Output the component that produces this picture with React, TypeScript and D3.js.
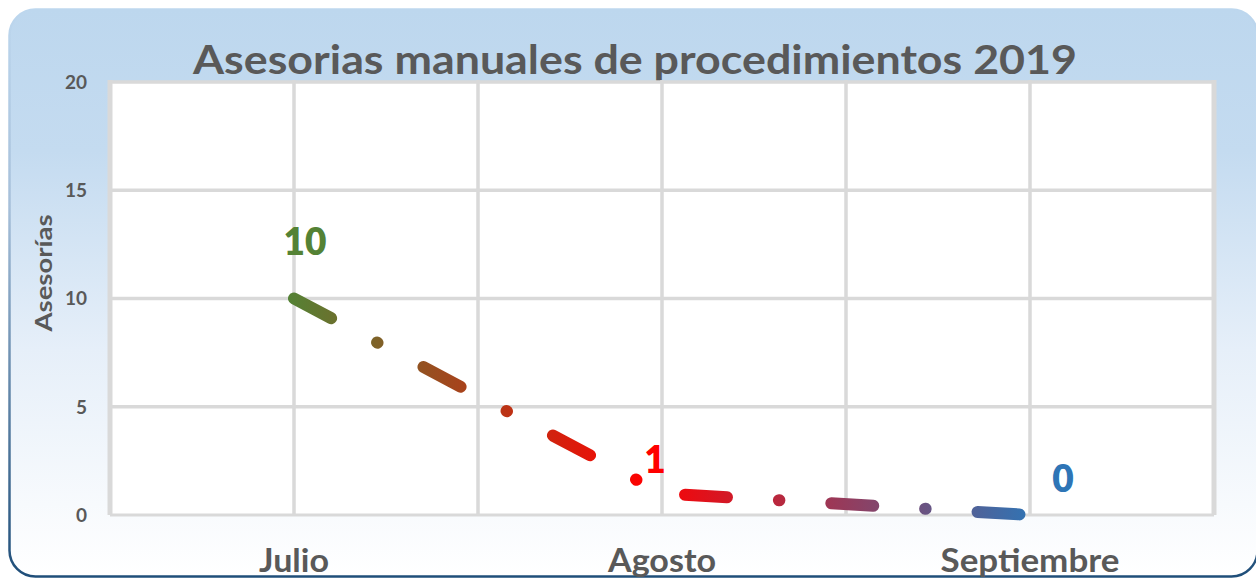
import React from 'react';
import * as d3 from 'd3';

const months = ['Julio', 'Agosto', 'Septiembre'];
const asesorias = [10, 1, 0];
const yTicks = [0, 5, 10, 15, 20];
const labelColors = ['#548235', '#ff0000', '#2e75b6'];

const W = 1256;
const H = 578;
const FONT = 'Lato, "Open Sans", sans-serif';

const App = () => {
  const x = d3.scaleBand<string>().domain(months).range([110, 1214]).padding(0);
  const y = d3.scaleLinear().domain([0, 20]).range([515, 82]);
  const bw = x.bandwidth();
  const cx = (m: string) => (x(m) as number) + bw / 2;

  // vertical gridlines at band edges and band centres
  const vLines: number[] = [];
  months.forEach((m) => {
    vLines.push(x(m) as number);
    vLines.push(cx(m));
  });
  vLines.push(x.range()[1]);

  const line = d3.line<number>()
    .x((_, i) => cx(months[i]))
    .y((d) => y(d));

  const labelPos = [
    { dx: 11, dy: -44 },
    { dx: -7, dy: -20 },
    { dx: 33, dy: -23 },
  ];
  const xLabelWidths = [70, 108, 179];

  return (
    <svg width={W} height={H} style={{ position: 'absolute', left: 0, top: 0 }}>
      <defs>
        <linearGradient id="bg-fill" x1="0" y1="0" x2="0" y2="1">
          <stop offset="0%" stopColor="#bdd7ee" />
          <stop offset="25%" stopColor="#c4dbf0" />
          <stop offset="60%" stopColor="#e6eff9" />
          <stop offset="100%" stopColor="#ffffff" />
        </linearGradient>
        <linearGradient id="bg-stroke" x1="0" y1="0" x2="0" y2="1">
          <stop offset="0%" stopColor="#bdd7ee" />
          <stop offset="35%" stopColor="#a6bfd9" />
          <stop offset="100%" stopColor="#1f4e79" />
        </linearGradient>
        <linearGradient id="line-grad" gradientUnits="userSpaceOnUse" x1={288} y1={0} x2={1036} y2={0}>
          <stop offset="0%" stopColor="#548235" />
          <stop offset="48%" stopColor="#ff0000" />
          <stop offset="100%" stopColor="#2e75b6" />
        </linearGradient>
      </defs>

      {/* chart background */}
      <rect x={9.5} y={9.5} width={1248} height={567} rx={26} ry={26}
        fill="url(#bg-fill)" stroke="url(#bg-stroke)" strokeWidth={2.5} />

      {/* title */}
      <text x={635} y={74} textAnchor="middle" fontFamily={FONT} fontWeight={700}
        fontSize={40} fill="#595959" textLength={884} lengthAdjust="spacingAndGlyphs">
        Asesorias manuales de procedimientos 2019
      </text>

      {/* plot area */}
      <rect x={110} y={82} width={1104} height={433} fill="#ffffff" />
      {yTicks.map((t) => (
        <line key={'h' + t} x1={110} x2={1214} y1={y(t)} y2={y(t)}
          stroke="#d9d9d9" strokeWidth={t === 0 ? 3 : 3.5} />
      ))}
      {vLines.map((v, i) => (
        <line key={'v' + i} x1={v} x2={v} y1={80} y2={515}
          stroke="#d9d9d9" strokeWidth={i === 0 || i === vLines.length - 1 ? 5 : 3.5} />
      ))}

      {/* y ticks */}
      {yTicks.map((t) => (
        <text key={'yt' + t} x={87} y={y(t)} dy="0.36em" textAnchor="end"
          fontFamily={FONT} fontWeight={700} fontSize={19} fill="#595959">
          {t}
        </text>
      ))}
      <text transform="translate(52,273) rotate(-90)" textAnchor="middle"
        fontFamily={FONT} fontWeight={700} fontSize={23} fill="#595959"
        textLength={117} lengthAdjust="spacingAndGlyphs">
        Asesorías
      </text>

      {/* x labels */}
      {months.map((m, i) => (
        <text key={m} x={cx(m)} y={572} textAnchor="middle" fontFamily={FONT}
          fontWeight={700} fontSize={33} fill="#595959"
          textLength={xLabelWidths[i]} lengthAdjust="spacingAndGlyphs">
          {m}
        </text>
      ))}

      {/* series */}
      <path d={line(asesorias) || ''} fill="none" stroke="url(#line-grad)"
        strokeWidth={12} strokeLinecap="round" strokeLinejoin="round"
        strokeDasharray="42 52 0.5 52" />

      {/* data labels */}
      {asesorias.map((v, i) => (
        <text key={'dl' + i} x={cx(months[i]) + labelPos[i].dx} y={y(v) + labelPos[i].dy}
          textAnchor="middle" fontFamily={FONT} fontWeight={800} fontSize={37}
          fill={labelColors[i]}>
          {v}
        </text>
      ))}
    </svg>
  );
};

export default App;
